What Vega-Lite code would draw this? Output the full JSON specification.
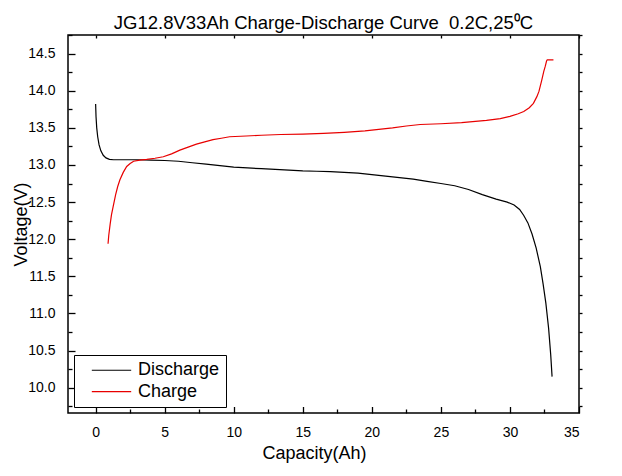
{
  "$schema": "https://vega.github.io/schema/vega-lite/v6.json",
  "width": 511,
  "height": 378,
  "autosize": {"type": "none"},
  "padding": {"left": 68, "top": 35, "right": 43, "bottom": 63},
  "background": "white",
  "title": {"text": "JG12.8V33Ah Charge-Discharge Curve\u00a0 0.2C,25⁰C", "font": "Liberation Sans", "fontSize": 18.5, "fontWeight": "normal", "color": "black", "anchor": "middle", "baseline": "alphabetic", "offset": 9, "dy": 22},
  "config": {
    "view": {"stroke": "black", "strokeWidth": 1.5},
    "font": "Liberation Sans",
    "axis": {"grid": false, "domain": false, "tickColor": "black", "tickWidth": 1.3, "labelColor": "black", "titleColor": "black", "labelFont": "Liberation Sans", "titleFont": "Liberation Sans", "titleFontWeight": "normal"}
  },
  "data": {"values": [
    {"series": "Discharge", "cap": 0, "v": 13.82},
    {"series": "Discharge", "cap": 0.03, "v": 13.65},
    {"series": "Discharge", "cap": 0.08, "v": 13.5},
    {"series": "Discharge", "cap": 0.15, "v": 13.38},
    {"series": "Discharge", "cap": 0.25, "v": 13.27},
    {"series": "Discharge", "cap": 0.38, "v": 13.19},
    {"series": "Discharge", "cap": 0.55, "v": 13.13},
    {"series": "Discharge", "cap": 0.75, "v": 13.095},
    {"series": "Discharge", "cap": 1.0, "v": 13.075},
    {"series": "Discharge", "cap": 1.3, "v": 13.07},
    {"series": "Discharge", "cap": 2, "v": 13.07},
    {"series": "Discharge", "cap": 3, "v": 13.07},
    {"series": "Discharge", "cap": 4, "v": 13.065},
    {"series": "Discharge", "cap": 5, "v": 13.06},
    {"series": "Discharge", "cap": 6, "v": 13.05},
    {"series": "Discharge", "cap": 7, "v": 13.03},
    {"series": "Discharge", "cap": 8, "v": 13.01},
    {"series": "Discharge", "cap": 9, "v": 12.99},
    {"series": "Discharge", "cap": 10, "v": 12.97},
    {"series": "Discharge", "cap": 11, "v": 12.96},
    {"series": "Discharge", "cap": 12, "v": 12.95},
    {"series": "Discharge", "cap": 13, "v": 12.94},
    {"series": "Discharge", "cap": 14, "v": 12.93},
    {"series": "Discharge", "cap": 15, "v": 12.92},
    {"series": "Discharge", "cap": 16, "v": 12.915},
    {"series": "Discharge", "cap": 17, "v": 12.91},
    {"series": "Discharge", "cap": 18, "v": 12.9},
    {"series": "Discharge", "cap": 19, "v": 12.89},
    {"series": "Discharge", "cap": 20, "v": 12.87},
    {"series": "Discharge", "cap": 21, "v": 12.85},
    {"series": "Discharge", "cap": 22, "v": 12.83},
    {"series": "Discharge", "cap": 23, "v": 12.81},
    {"series": "Discharge", "cap": 24, "v": 12.78},
    {"series": "Discharge", "cap": 25, "v": 12.75},
    {"series": "Discharge", "cap": 26, "v": 12.72},
    {"series": "Discharge", "cap": 27, "v": 12.67},
    {"series": "Discharge", "cap": 28, "v": 12.6},
    {"series": "Discharge", "cap": 29, "v": 12.54},
    {"series": "Discharge", "cap": 29.8, "v": 12.5},
    {"series": "Discharge", "cap": 30.3, "v": 12.46},
    {"series": "Discharge", "cap": 30.7, "v": 12.4},
    {"series": "Discharge", "cap": 31.0, "v": 12.32},
    {"series": "Discharge", "cap": 31.3, "v": 12.22},
    {"series": "Discharge", "cap": 31.6, "v": 12.07},
    {"series": "Discharge", "cap": 31.9, "v": 11.88},
    {"series": "Discharge", "cap": 32.2, "v": 11.63},
    {"series": "Discharge", "cap": 32.4, "v": 11.4},
    {"series": "Discharge", "cap": 32.6, "v": 11.14},
    {"series": "Discharge", "cap": 32.8, "v": 10.8},
    {"series": "Discharge", "cap": 32.95, "v": 10.45},
    {"series": "Discharge", "cap": 33.05, "v": 10.15},
    {"series": "Charge", "cap": 0.9, "v": 11.94},
    {"series": "Charge", "cap": 0.95, "v": 12.05},
    {"series": "Charge", "cap": 1.05, "v": 12.2},
    {"series": "Charge", "cap": 1.15, "v": 12.33},
    {"series": "Charge", "cap": 1.28, "v": 12.45},
    {"series": "Charge", "cap": 1.45, "v": 12.6},
    {"series": "Charge", "cap": 1.6, "v": 12.71},
    {"series": "Charge", "cap": 1.76, "v": 12.8},
    {"series": "Charge", "cap": 2.0, "v": 12.9},
    {"series": "Charge", "cap": 2.25, "v": 12.98},
    {"series": "Charge", "cap": 2.5, "v": 13.02},
    {"series": "Charge", "cap": 2.75, "v": 13.05},
    {"series": "Charge", "cap": 3.2, "v": 13.065},
    {"series": "Charge", "cap": 3.7, "v": 13.075},
    {"series": "Charge", "cap": 4.3, "v": 13.09},
    {"series": "Charge", "cap": 4.9, "v": 13.11},
    {"series": "Charge", "cap": 5.5, "v": 13.15},
    {"series": "Charge", "cap": 6.1, "v": 13.2},
    {"series": "Charge", "cap": 6.7, "v": 13.24},
    {"series": "Charge", "cap": 7.3, "v": 13.28},
    {"series": "Charge", "cap": 7.9, "v": 13.31},
    {"series": "Charge", "cap": 8.5, "v": 13.34},
    {"series": "Charge", "cap": 9.1, "v": 13.36},
    {"series": "Charge", "cap": 9.7, "v": 13.38},
    {"series": "Charge", "cap": 10.9, "v": 13.39},
    {"series": "Charge", "cap": 12, "v": 13.4},
    {"series": "Charge", "cap": 13.4, "v": 13.41},
    {"series": "Charge", "cap": 15, "v": 13.415},
    {"series": "Charge", "cap": 16.5, "v": 13.425},
    {"series": "Charge", "cap": 18, "v": 13.44},
    {"series": "Charge", "cap": 19.5, "v": 13.46},
    {"series": "Charge", "cap": 20.5, "v": 13.48},
    {"series": "Charge", "cap": 21.5, "v": 13.5},
    {"series": "Charge", "cap": 22.5, "v": 13.525},
    {"series": "Charge", "cap": 23.5, "v": 13.545},
    {"series": "Charge", "cap": 25, "v": 13.555},
    {"series": "Charge", "cap": 26.5, "v": 13.57},
    {"series": "Charge", "cap": 28.3, "v": 13.6},
    {"series": "Charge", "cap": 29.3, "v": 13.625},
    {"series": "Charge", "cap": 30.0, "v": 13.655},
    {"series": "Charge", "cap": 30.6, "v": 13.69},
    {"series": "Charge", "cap": 31.0, "v": 13.72},
    {"series": "Charge", "cap": 31.4, "v": 13.77},
    {"series": "Charge", "cap": 31.7, "v": 13.83},
    {"series": "Charge", "cap": 31.95, "v": 13.92},
    {"series": "Charge", "cap": 32.1, "v": 13.99},
    {"series": "Charge", "cap": 32.3, "v": 14.14},
    {"series": "Charge", "cap": 32.45, "v": 14.26},
    {"series": "Charge", "cap": 32.56, "v": 14.33},
    {"series": "Charge", "cap": 32.65, "v": 14.4},
    {"series": "Charge", "cap": 32.68, "v": 14.41},
    {"series": "Charge", "cap": 32.7, "v": 14.415},
    {"series": "Charge", "cap": 33.15, "v": 14.415}
  ]},
  "resolve": {"axis": {"x": "independent", "y": "independent"}},
  "layer": [
    {
      "mark": {"type": "line", "strokeOpacity": 0},
      "encoding": {
        "x": {"field": "cap", "type": "quantitative", "scale": {"domain": [-2, 35], "nice": false, "zero": false},
              "axis": {"orient": "bottom", "values": [2.5, 7.5, 12.5, 17.5, 22.5, 27.5, 32.5], "tickSize": -4, "labels": false, "title": null}},
        "y": {"field": "v", "type": "quantitative", "scale": {"domain": [9.66, 14.75], "nice": false, "zero": false},
              "axis": {"orient": "left", "values": [9.75, 10.25, 10.75, 11.25, 11.75, 12.25, 12.75, 13.25, 13.75, 14.25, 14.75], "tickSize": -4, "labels": false, "title": null}},
        "detail": {"field": "series"}
      }
    },
    {
      "mark": {"type": "line", "strokeOpacity": 0},
      "encoding": {
        "x": {"field": "cap", "type": "quantitative",
              "axis": {"orient": "top", "values": [0, 5, 10, 15, 20, 25, 30, 35], "tickSize": -3, "labels": false, "title": null}},
        "y": {"field": "v", "type": "quantitative",
              "axis": {"orient": "right", "values": [9.75, 10, 10.25, 10.5, 10.75, 11, 11.25, 11.5, 11.75, 12, 12.25, 12.5, 12.75, 13, 13.25, 13.5, 13.75, 14, 14.25, 14.5, 14.75], "tickSize": 3, "labels": false, "title": null}},
        "detail": {"field": "series"}
      }
    },
    {
      "mark": {"type": "line", "strokeOpacity": 0},
      "encoding": {
        "x": {"field": "cap", "type": "quantitative",
              "axis": {"orient": "bottom", "values": [0, 5, 10, 15, 20, 25, 30, 35], "tickSize": -6.5, "labels": false, "title": null}},
        "y": {"field": "v", "type": "quantitative",
              "axis": {"orient": "left", "values": [10, 10.5, 11, 11.5, 12, 12.5, 13, 13.5, 14, 14.5], "tickSize": -7, "labels": false, "title": null}},
        "detail": {"field": "series"}
      }
    },
    {
      "mark": {"type": "line", "strokeWidth": 1.2},
      "encoding": {
        "x": {"field": "cap", "type": "quantitative",
              "axis": {"orient": "bottom", "values": [0, 5, 10, 15, 20, 25, 30, 35], "ticks": false, "labelFontSize": 14, "labelPadding": 12, "title": "Capacity(Ah)", "titleFontSize": 18, "titlePadding": 5, "titleX": 246}},
        "y": {"field": "v", "type": "quantitative",
              "axis": {"orient": "left", "values": [10, 10.5, 11, 11.5, 12, 12.5, 13, 13.5, 14, 14.5], "format": ".1f", "ticks": false, "labelFontSize": 14, "labelPadding": 13, "title": "Voltage(V)", "titleFontSize": 18, "titlePadding": -3}},
        "color": {"field": "series", "type": "nominal",
                  "scale": {"domain": ["Discharge", "Charge"], "range": ["black", "#e80000"]},
                  "legend": {"orient": "bottom-left", "offset": 6, "title": null, "padding": 6, "strokeColor": "black", "fillColor": "white",
                             "labelFontSize": 18, "labelFont": "Liberation Sans", "labelColor": "black", "symbolType": "stroke", "symbolSize": 1550, "symbolStrokeWidth": 1.2,
                             "labelOffset": 6, "clipHeight": 18.5, "rowPadding": 2.4, "symbolOffset": 11,
                             "labelExpr": "datum.label + '\u00a0\u00a0\u00a0'"}}
      }
    }
  ]
}
